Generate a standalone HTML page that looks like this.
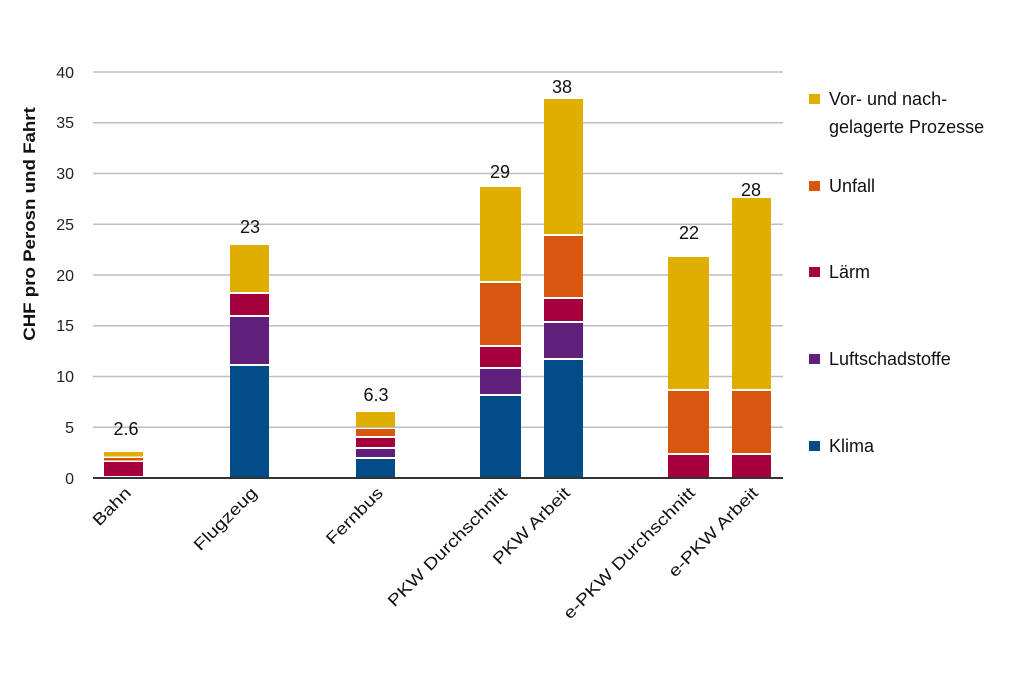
<!DOCTYPE html>
<html><head><meta charset="utf-8"><style>body{margin:0;background:#fff}svg{display:block}</style></head><body>
<svg width="1024" height="683" viewBox="0 0 1024 683" xmlns="http://www.w3.org/2000/svg" font-family="Liberation Sans, sans-serif">
<g stroke="#bdbdbd" stroke-width="1.5">
<line x1="93" x2="783" y1="72" y2="72"/><line x1="93" x2="783" y1="122.7" y2="122.7"/><line x1="93" x2="783" y1="173.5" y2="173.5"/><line x1="93" x2="783" y1="224.2" y2="224.2"/><line x1="93" x2="783" y1="275" y2="275"/><line x1="93" x2="783" y1="325.7" y2="325.7"/><line x1="93" x2="783" y1="376.5" y2="376.5"/><line x1="93" x2="783" y1="427.2" y2="427.2"/>
</g>
<g font-size="16" fill="#222" text-anchor="end">
<text x="74" y="78">40</text><text x="74" y="128">35</text><text x="74" y="179">30</text><text x="74" y="230">25</text><text x="74" y="281">20</text><text x="74" y="331">15</text><text x="74" y="382">10</text><text x="74" y="433">5</text><text x="74" y="484">0</text>
</g>
<text transform="translate(35,224) rotate(-90) scale(1.1,1)" font-size="17" font-weight="bold" text-anchor="middle" fill="#111">CHF pro Perosn und Fahrt</text>
<g>
<rect x="104" y="462" width="39" height="14" fill="#a5003c"/><rect x="104" y="458" width="39" height="2.5" fill="#d9560e"/><rect x="104" y="452" width="39" height="4.5" fill="#e0ae00"/>
<rect x="230" y="366" width="39" height="112" fill="#004c87"/><rect x="230" y="317" width="39" height="47" fill="#5f1f7a"/><rect x="230" y="294" width="39" height="21" fill="#a5003c"/><rect x="230" y="245" width="39" height="47" fill="#e0ae00"/>
<rect x="356" y="459" width="39" height="19" fill="#004c87"/><rect x="356" y="449" width="39" height="8" fill="#5f1f7a"/><rect x="356" y="438" width="39" height="9" fill="#a5003c"/><rect x="356" y="429" width="39" height="7" fill="#d9560e"/><rect x="356" y="412" width="39" height="15" fill="#e0ae00"/>
<rect x="480" y="396" width="41" height="82" fill="#004c87"/><rect x="480" y="369" width="41" height="25" fill="#5f1f7a"/><rect x="480" y="347" width="41" height="20" fill="#a5003c"/><rect x="480" y="283" width="41" height="62" fill="#d9560e"/><rect x="480" y="187" width="41" height="94" fill="#e0ae00"/>
<rect x="544" y="360" width="39" height="118" fill="#004c87"/><rect x="544" y="323" width="39" height="35" fill="#5f1f7a"/><rect x="544" y="299" width="39" height="22" fill="#a5003c"/><rect x="544" y="236" width="39" height="61" fill="#d9560e"/><rect x="544" y="99" width="39" height="135" fill="#e0ae00"/>
<rect x="668" y="455" width="41" height="23" fill="#a5003c"/><rect x="668" y="391" width="41" height="62" fill="#d9560e"/><rect x="668" y="257" width="41" height="132" fill="#e0ae00"/>
<rect x="732" y="455" width="39" height="23" fill="#a5003c"/><rect x="732" y="391" width="39" height="62" fill="#d9560e"/><rect x="732" y="198" width="39" height="191" fill="#e0ae00"/>
</g>
<line x1="93" x2="783" y1="478" y2="478" stroke="#333" stroke-width="2"/>
<g font-size="18" fill="#111" text-anchor="middle">
<text x="126" y="435">2.6</text><text x="250" y="233">23</text><text x="376" y="401">6.3</text><text x="500" y="178">29</text><text x="562" y="93">38</text><text x="689" y="239">22</text><text x="751" y="196">28</text>
</g>
<g font-size="16.5" fill="#111" text-anchor="end">
<text transform="translate(132,494) rotate(-45) scale(1.2,1)">Bahn</text>
<text transform="translate(258,494) rotate(-45) scale(1.2,1)">Flugzeug</text>
<text transform="translate(384,494) rotate(-45) scale(1.2,1)">Fernbus</text>
<text transform="translate(508,494) rotate(-45) scale(1.2,1)">PKW Durchschnitt</text>
<text transform="translate(571,494) rotate(-45) scale(1.2,1)">PKW Arbeit</text>
<text transform="translate(696,494) rotate(-45) scale(1.2,1)">e-PKW Durchschnitt</text>
<text transform="translate(759,494) rotate(-45) scale(1.2,1)">e-PKW Arbeit</text>
</g>
<g font-size="18" fill="#111">
<rect x="809" y="94" width="11" height="10" fill="#e0ae00"/><text x="829" y="105">Vor- und nach-</text><text x="829" y="133">gelagerte Prozesse</text>
<rect x="809" y="181" width="11" height="10" fill="#d9560e"/><text x="829" y="192">Unfall</text>
<rect x="809" y="267" width="11" height="10" fill="#a5003c"/><text x="829" y="278">Lärm</text>
<rect x="809" y="354" width="11" height="10" fill="#5f1f7a"/><text x="829" y="365">Luftschadstoffe</text>
<rect x="809" y="441" width="11" height="10" fill="#004c87"/><text x="829" y="452">Klima</text>
</g>
</svg>
</body></html>
